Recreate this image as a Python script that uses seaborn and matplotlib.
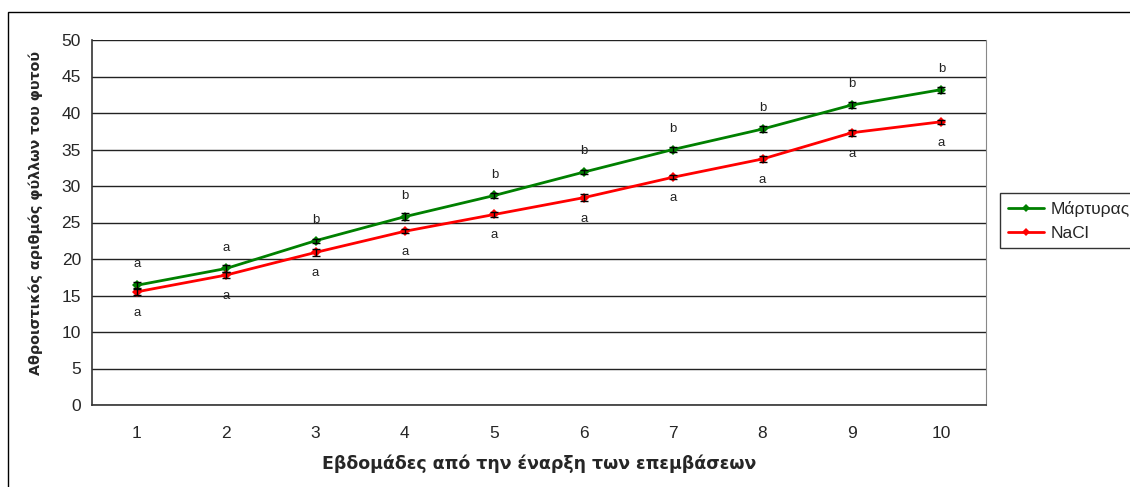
import matplotlib
matplotlib.use("Agg")
import matplotlib.pyplot as plt
from matplotlib.patches import Rectangle
import seaborn as sns
import pandas as pd
import numpy as np

# Weekly cumulative leaf counts per plant
weeks = [1, 2, 3, 4, 5, 6, 7, 8, 9, 10]
control = [16.4, 18.7, 22.5, 25.8, 28.7, 31.9, 35.0, 37.8, 41.1, 43.2]
nacl = [15.5, 17.8, 20.9, 23.8, 26.1, 28.4, 31.2, 33.7, 37.3, 38.8]
control_err = [0.4, 0.5, 0.3, 0.5, 0.3, 0.3, 0.3, 0.4, 0.4, 0.4]
nacl_err = [0.4, 0.4, 0.5, 0.3, 0.3, 0.5, 0.3, 0.4, 0.4, 0.3]
control_letters = ["a", "a", "b", "b", "b", "b", "b", "b", "b", "b"]
nacl_letters = ["a", "a", "a", "a", "a", "a", "a", "a", "a", "a"]
series_names = ["Μάρτυρας", "NaCl"]
series_colors = ["#008000", "#ff0000"]

df = pd.DataFrame({
    "week": weeks * 2,
    "value": control + nacl,
    "err": control_err + nacl_err,
    "series": [series_names[0]] * len(weeks) + [series_names[1]] * len(weeks),
})

sns.set_style("white")
plt.rcParams["font.family"] = ["Liberation Sans", "DejaVu Sans"]

fig = plt.figure(figsize=(11.3, 4.87), dpi=100)
ax = fig.add_axes([92 / 1130, 1 - 405 / 487, (986 - 92) / 1130, (405 - 40) / 487])

# Outer chart frame, running off the right and bottom edges
fig.patches.append(Rectangle((8 / 1130, -0.1), 1.2, 1 - 12 / 487 + 0.1,
                             transform=fig.transFigure, fill=False,
                             edgecolor="black", linewidth=1.0, zorder=0))

sns.lineplot(data=df, x="week", y="value", hue="series", palette=series_colors,
             hue_order=series_names, marker="D", markersize=5, markeredgewidth=0,
             linewidth=2, ax=ax, legend=True, zorder=3)

for vals, errs in [(control, control_err), (nacl, nacl_err)]:
    ax.errorbar(weeks, vals, yerr=errs, fmt="none", ecolor="black",
                elinewidth=1, capsize=3, capthick=1, zorder=4)

for w, v, t in zip(weeks, control, control_letters):
    ax.annotate(t, (w, v), xytext=(0, 15), textcoords="offset points",
                ha="center", va="center", fontsize=9.5, color="#222222")
for w, v, t in zip(weeks, nacl, nacl_letters):
    ax.annotate(t, (w, v), xytext=(0, -15), textcoords="offset points",
                ha="center", va="center", fontsize=9.5, color="#222222")

ax.set_xlim(0.5, 10.5)
ax.set_ylim(0, 50)
ax.set_yticks(np.arange(0, 51, 5))
ax.set_xticks(weeks)
ax.set_xticks(np.arange(0.5, 10.6, 1), minor=True)
ax.tick_params(axis="x", which="major", length=0, labelsize=12.5, pad=15)
ax.tick_params(axis="x", which="minor", length=5, direction="out", color="#333333")
ax.tick_params(axis="y", length=5, direction="out", color="#333333", labelsize=12.5, pad=3)
ax.yaxis.grid(True, color="#222222", linewidth=1)
ax.set_axisbelow(True)
for s in ["left", "bottom"]:
    ax.spines[s].set_color("#333333")
    ax.spines[s].set_linewidth(1.2)
ax.spines["top"].set_visible(False)
ax.spines["right"].set_color("#888888")

ax.set_xlabel("Εβδομάδες από την έναρξη των επεμβάσεων", fontsize=12.5,
              fontweight="bold", family="DejaVu Sans", labelpad=10)
ax.set_ylabel("Αθροιστικός αριθμός φύλλων του φυτού", fontsize=10.3,
              fontweight="bold", family="DejaVu Sans", labelpad=10)
ax.yaxis.set_label_coords(-0.055, 0.527)

leg = ax.legend(loc="upper left", bbox_to_anchor=(1000 / 1130, 1 - 193 / 487),
                bbox_transform=fig.transFigure, frameon=True, fancybox=False,
                edgecolor="black", fontsize=12.5, handlelength=2.1,
                borderpad=0.45, labelspacing=0.5, handletextpad=0.35,
                borderaxespad=0)
leg.get_frame().set_linewidth(1.0)
for h in leg.legend_handles:
    h.set_marker("D")
    h.set_markersize(4)

fig.savefig("out.png", dpi=100)
